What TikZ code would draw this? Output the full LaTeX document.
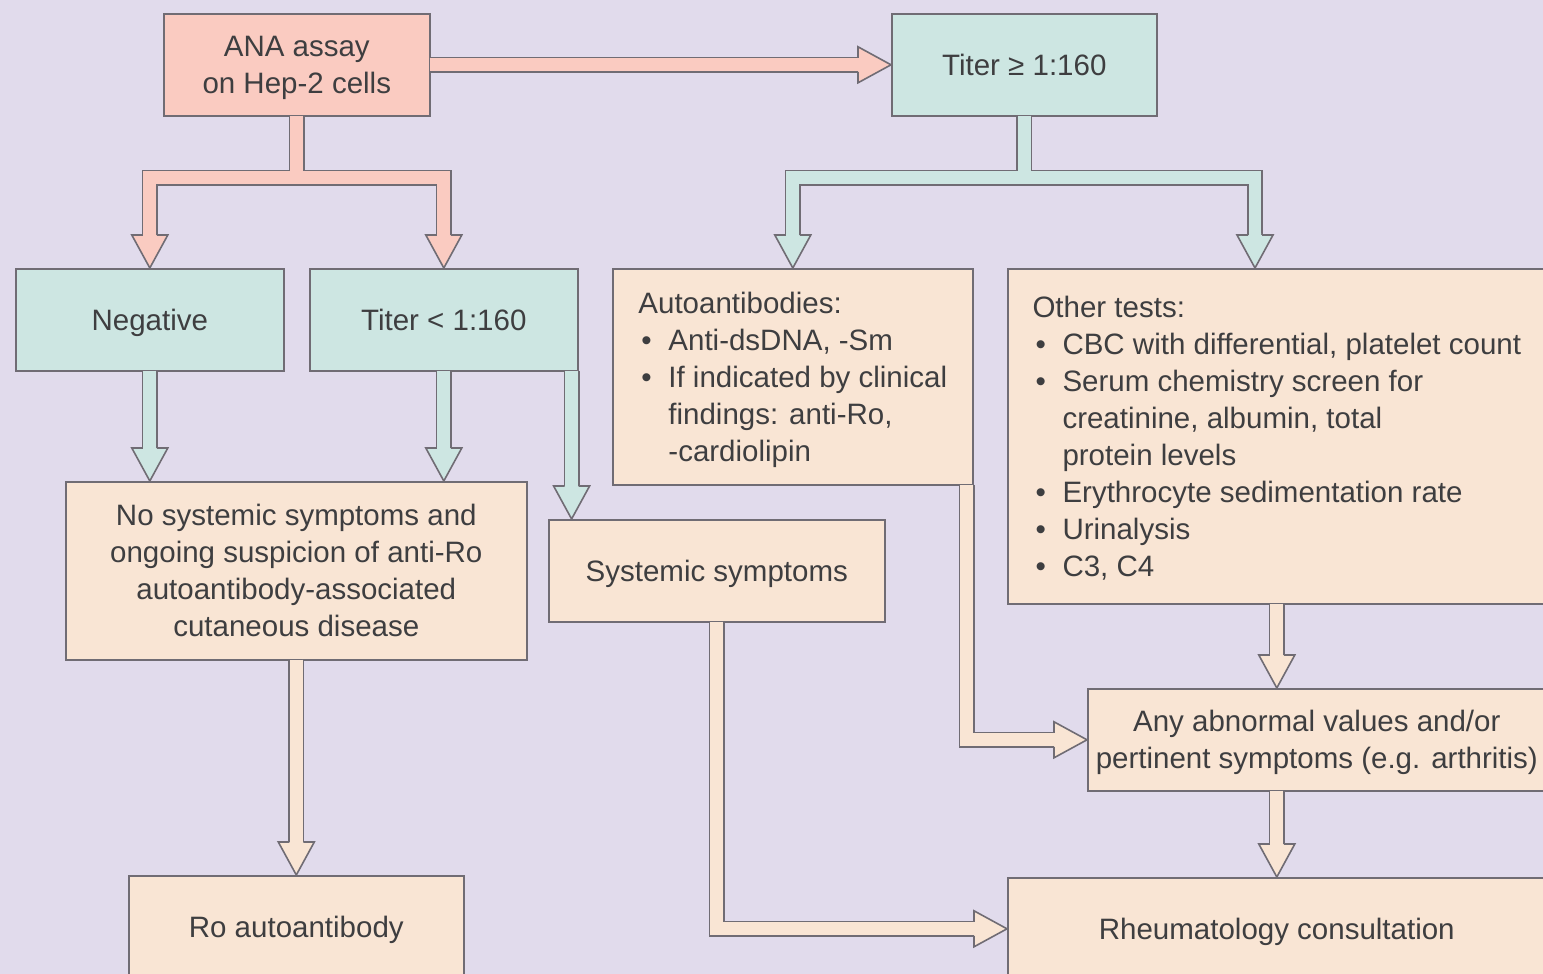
\documentclass[tikz,border=0pt]{standalone}
\usepackage{fontspec}
\setmainfont{Liberation Sans}
\usetikzlibrary{calc}
\definecolor{bgcolor}{RGB}{225,219,236}
\definecolor{pinkcolor}{RGB}{250,203,193}
\definecolor{tealcolor}{RGB}{205,230,226}
\definecolor{beigecolor}{RGB}{249,229,212}
\definecolor{edgecolor}{RGB}{112,108,116}
\definecolor{textcolor}{RGB}{62,62,64}
\newcommand{\itm}{\makebox[30pt][l]{\hspace{3pt}\textbullet}}
\newcommand{\cnt}{\hspace*{30pt}}
\newcommand{\fatarrow}[4]{%
  \draw[fatedge] #2;
  \draw[fatfill=#1] #2;
  \pic[rotate=#4] at #3 {fathead=#1};}
\tikzset{
  box/.style={draw=edgecolor, line width=1.6pt, fill=#1, text=textcolor,
              minimum height=102pt, inner sep=4pt, align=center,
              text depth=0pt, anchor=north west},
  box/.default=beigecolor,
  listbox/.style={box=beigecolor, align=left},
  fatedge/.style={draw=edgecolor, line width=16pt,
                  shorten <=-0.8pt, shorten >=33pt},
  fatfill/.style={draw=#1, line width=12.8pt,
                  shorten <=-1pt, shorten >=33pt},
  pics/fathead/.style={code={
    \fill[#1] (0,0) -- (-33,-18) -- (-33,-6) -- (-35,-6) -- (-35,6)
      -- (-33,6) -- (-33,18) -- cycle;
    \draw[edgecolor, line width=1.6pt, line cap=square]
      (-33,-7) -- (-33,-18) -- (0,0) -- (-33,18) -- (-33,7);
  }},
}

\begin{document}
\begin{tikzpicture}[x=1pt, y=-1pt, font=\fontsize{29.5}{37}\selectfont]
  \useasboundingbox (0,0) rectangle (1543,974);
  \fill[bgcolor] (0,0) rectangle (1543,974);

  % Boxes
  \node[box=pinkcolor, minimum width=266pt] (ana) at (163,13)
    {ANA assay\\on Hep-2 cells};
  \node[box=tealcolor, minimum width=265pt] (thigh) at (891,13)
    {Titer ≥ 1:160};
  \node[box=tealcolor, minimum width=268pt] (neg) at (15,268) {Negative};
  \node[box=tealcolor, minimum width=268pt] (tlow) at (309,268)
    {Titer < 1:160};
  \node[listbox, minimum width=360pt, minimum height=216pt] (auto)
    at (612,268)
    {Autoantibodies:\\
     \itm Anti-dsDNA, -Sm\\
     \itm If indicated by clinical\\
     \cnt findings: anti-Ro,\\
     \cnt -cardiolipin};
  \node[listbox, minimum width=538pt, minimum height=335pt] (other)
    at (1007,268)
    {Other tests:\\
     \itm CBC with differential, platelet count\\
     \itm Serum chemistry screen for\\
     \cnt creatinine, albumin, total\\
     \cnt protein levels\\
     \itm Erythrocyte sedimentation rate\\
     \itm Urinalysis\\
     \itm C3, C4};
  \node[box, minimum width=461pt, minimum height=178pt] (nosys) at (65,481)
    {No systemic symptoms and\\ongoing suspicion of anti-Ro\\
     autoantibody-associated\\cutaneous disease};
  \node[box, minimum width=336pt] (sys) at (548,519) {Systemic symptoms};
  \node[box, minimum width=458pt] (any) at (1087,688)
    {Any abnormal values and/or\\pertinent symptoms (e.g. arthritis)};
  \node[box, minimum width=335pt] (ro) at (128,875) {Ro autoantibody};
  \node[box, minimum width=538pt] (rheum) at (1007,877)
    {Rheumatology consultation};

  % ANA assay -> high titer
  \fatarrow{pinkcolor}{(ana.east) -- (thigh.west)}{(thigh.west)}{0}

  % ANA assay split
  \coordinate (anasplit) at ($(ana.south)+(0,61)$);
  \draw[fatedge, shorten <=33pt] (neg.north) |- (anasplit) -| (tlow.north);
  \draw[fatedge, shorten >=0pt] (ana.south) -- (anasplit);
  \draw[fatfill=pinkcolor, shorten <=33pt] (neg.north) |- (anasplit) -| (tlow.north);
  \draw[fatfill=pinkcolor, shorten >=0pt] (ana.south) -- (anasplit);
  \pic[rotate=-90] at (neg.north) {fathead=pinkcolor};
  \pic[rotate=-90] at (tlow.north) {fathead=pinkcolor};

  % high titer split
  \coordinate (thighsplit) at ($(thigh.south)+(0,61)$);
  \coordinate (othertip) at ($(other.north west)+(248,0)$);
  \draw[fatedge, shorten <=33pt] (auto.north) |- (thighsplit) -| (othertip);
  \draw[fatedge, shorten >=0pt] (thigh.south) -- (thighsplit);
  \draw[fatfill=tealcolor, shorten <=33pt] (auto.north) |- (thighsplit) -| (othertip);
  \draw[fatfill=tealcolor, shorten >=0pt] (thigh.south) -- (thighsplit);
  \pic[rotate=-90] at (auto.north) {fathead=tealcolor};
  \pic[rotate=-90] at (othertip) {fathead=tealcolor};

  % negative / low titer
  \fatarrow{tealcolor}{(neg.south) -- (neg.south |- nosys.north)}
    {(neg.south |- nosys.north)}{-90}
  \fatarrow{tealcolor}{(tlow.south) -- (tlow.south |- nosys.north)}
    {(tlow.south |- nosys.north)}{-90}
  \coordinate (tlowcorner) at ($(tlow.south east)+(-7,0)$);
  \fatarrow{tealcolor}{(tlowcorner) -- (tlowcorner |- sys.north)}
    {(tlowcorner |- sys.north)}{-90}

  % to the results
  \fatarrow{beigecolor}{(nosys.south) -- (ro.north)}{(ro.north)}{-90}
  \coordinate (autocorner) at ($(auto.south east)+(-7,0)$);
  \fatarrow{beigecolor}{(autocorner) |- (any.west)}{(any.west)}{0}
  \fatarrow{beigecolor}{(sys.south) |- (rheum.west)}{(rheum.west)}{0}
  \fatarrow{beigecolor}{(other.south) -- (other.south |- any.north)}
    {(other.south |- any.north)}{-90}
  \fatarrow{beigecolor}{(other.south |- any.south) -- (other.south |- rheum.north)}
    {(other.south |- rheum.north)}{-90}
\end{tikzpicture}
\end{document}
